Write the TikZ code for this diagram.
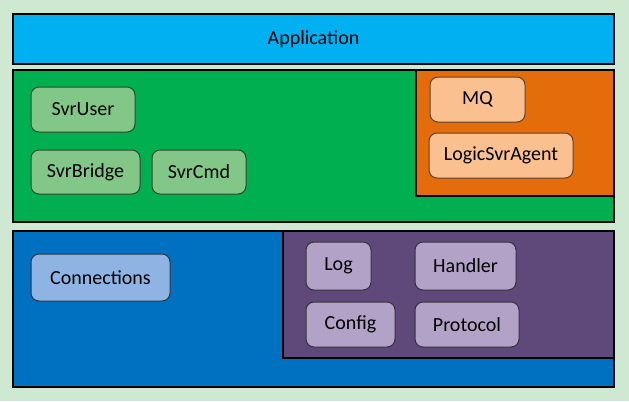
\documentclass[tikz,border=0pt]{standalone}
\usepackage{fontspec}
\setmainfont{Carlito}
\usepackage{xcolor}
\usepackage{tikz}

\definecolor{pagebg}{HTML}{CFE8D1}
\definecolor{appblue}{HTML}{00B0F0}
\definecolor{svrgreen}{HTML}{00B050}
\definecolor{mqorange}{HTML}{E46C0A}
\definecolor{netblue}{HTML}{0070C0}
\definecolor{basepurple}{HTML}{5F497A}
\definecolor{lightgreen}{HTML}{82C788}
\definecolor{lightorange}{HTML}{FAC090}
\definecolor{lightblue}{HTML}{8DB4E2}
\definecolor{lightpurple}{HTML}{B3A2C7}

\tikzset{
  layer/.style={draw=black, line width=1pt, inner sep=0pt, outer sep=0pt},
  module/.style={rounded corners=6pt, line width=0.75pt, inner sep=0pt, outer sep=0pt,
    font=\fontsize{15}{18}\selectfont, text=black},
}

\begin{document}
\begin{tikzpicture}[x=0.75pt, y=-0.75pt]
        \fill[pagebg] (0, 0) rectangle (629, 401);
        \useasboundingbox (0, 0) rectangle (629, 401);

        % layers
        \node[layer, fill=appblue, minimum width=450.75pt, minimum height=37.5pt,
              font=\fontsize{15}{18}\selectfont] (app) at (313.5, 39) {Application};
        \node[layer, fill=svrgreen, minimum width=450.75pt, minimum height=114pt] (svr) at (313.5, 146) {};
        \node[layer, fill=mqorange, minimum width=148.5pt, minimum height=94.5pt] (mq) at (515, 133) {};
        \node[layer, fill=netblue, minimum width=450.75pt, minimum height=117pt] (net) at (313.5, 309) {};
        \node[layer, fill=basepurple, minimum width=248.25pt, minimum height=95.25pt] (base) at (448.5, 294.5) {};

        % server modules
        \node[module, fill=lightgreen, draw=lightgreen!35!black, minimum width=78pt, minimum height=33.75pt] (svruser) at (83, 109.5) {SvrUser};
        \node[module, fill=lightgreen, draw=lightgreen!35!black, minimum width=81.75pt, minimum height=33pt] (svrbridge) at (85.5, 172) {SvrBridge};
        \node[module, fill=lightgreen, draw=lightgreen!35!black, minimum width=70.5pt, minimum height=33pt] (svrcmd) at (199, 172) {SvrCmd};

        % message queue
        \node[module, fill=lightorange, draw=lightorange!35!black, minimum width=71.25pt, minimum height=33.75pt] (mqnode) at (477.5, 99.5) {MQ};
        \node[module, fill=lightorange, draw=lightorange!35!black, minimum width=108pt, minimum height=33.75pt] (agent) at (501, 155.5) {LogicSvrAgent};

        % network
        \node[module, fill=lightblue, draw=lightblue!30!black, minimum width=104.25pt, minimum height=35.25pt] (conn) at (100.5, 277.5) {Connections};

        % base
        \node[module, fill=lightpurple, draw=lightpurple!30!black, minimum width=48.75pt, minimum height=36pt] (log) at (338.5, 266) {Log};
        \node[module, fill=lightpurple, draw=lightpurple!30!black, minimum width=75.75pt, minimum height=36pt] (handler) at (465.5, 266) {Handler};
        \node[module, fill=lightpurple, draw=lightpurple!30!black, minimum width=66.75pt, minimum height=33.75pt] (config) at (350.5, 324.5) {Config};
        \node[module, fill=lightpurple, draw=lightpurple!30!black, minimum width=78pt, minimum height=33.75pt] (protocol) at (467, 324.5) {Protocol};
    \end{tikzpicture}
\end{document}
